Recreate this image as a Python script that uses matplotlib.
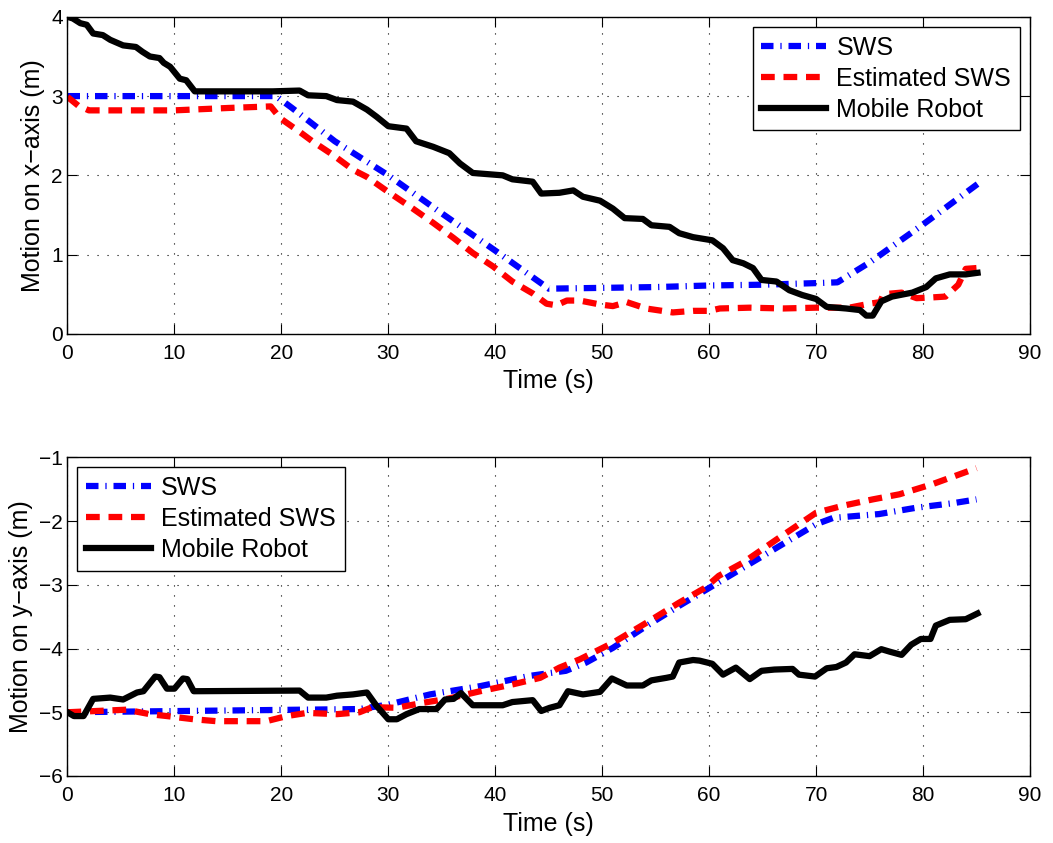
import numpy as np
import matplotlib
matplotlib.use("Agg")
import matplotlib.pyplot as plt

plt.rcParams['font.family'] = ['Liberation Sans', 'DejaVu Sans']

# ---- x-axis motion (top panel) ----
tx_sws = [0, 19.5, 21, 25, 30, 35, 40, 45, 50, 55, 60, 65, 70, 72, 75, 80, 85.3]
x_sws = [3.0, 3.0, 2.85, 2.43, 2.0, 1.52, 1.05, 0.57, 0.58, 0.59, 0.61, 0.62, 0.64, 0.65, 0.9, 1.38, 1.91]

tx_est = [0, 1, 2, 5, 10, 15, 19, 19.9, 21.7, 22.9, 24.8, 26.7, 28.0, 30, 32.3, 34.2, 36.1,
          37.9, 39.8, 41.6, 43.5, 44.8, 45.7, 46.7, 47.9, 49.8, 51.0, 52.3, 54.1, 56.6,
          58.5, 60.0, 61.0, 63.8, 66.9, 70, 73.1, 75, 76.0, 76.3, 78.0, 79.4, 80.9, 82.1,
          83.3, 84.0, 85.0]
x_est = [2.99, 2.88, 2.82, 2.82, 2.82, 2.85, 2.87, 2.72, 2.55, 2.43, 2.26, 2.07, 1.98, 1.79,
         1.58, 1.40, 1.21, 1.02, 0.85, 0.66, 0.51, 0.38, 0.36, 0.42, 0.42, 0.37, 0.35, 0.40,
         0.32, 0.27, 0.29, 0.29, 0.32, 0.33, 0.32, 0.33, 0.33, 0.38, 0.40, 0.50, 0.52, 0.45,
         0.46, 0.47, 0.62, 0.82, 0.83]

tx_rob = [0, 0.5, 1.2, 1.8, 2.4, 3.3, 4.0, 5.2, 6.4, 7.0, 7.7, 8.6, 9.0, 9.6, 10.5, 11.1, 11.9,
          19.2, 21.7, 22.5, 24.2, 25.2, 26.7, 28.0, 28.9, 30, 31.7, 32.6, 34.2, 35.7, 36.7,
          37.9, 40.7, 41.6, 43.5, 44.3, 46.0, 47.3, 48.2, 49.8, 51.0, 52.1, 53.8, 54.6,
          56.3, 57.2, 58.5, 60.3, 61.3, 62.2, 63.2, 64.1, 64.9, 66.3, 67.5, 68.7, 70.0,
          71.0, 72.8, 74.1, 74.7, 75.3, 76.1, 77.1, 79.0, 80.3, 81.2, 82.5, 84.0, 85.1]
x_rob = [4.0, 3.98, 3.92, 3.9, 3.79, 3.77, 3.71, 3.64, 3.62, 3.56, 3.50, 3.48, 3.42, 3.37,
         3.22, 3.2, 3.06, 3.06, 3.07, 3.01, 3.0, 2.95, 2.93, 2.83, 2.74, 2.62, 2.59, 2.43,
         2.36, 2.28, 2.15, 2.03, 2.0, 1.95, 1.92, 1.77, 1.78, 1.81, 1.73, 1.68, 1.58, 1.46,
         1.45, 1.37, 1.35, 1.27, 1.22, 1.18, 1.08, 0.93, 0.89, 0.83, 0.68, 0.66, 0.55, 0.49,
         0.44, 0.34, 0.32, 0.30, 0.23, 0.23, 0.41, 0.47, 0.52, 0.59, 0.70, 0.75, 0.75, 0.77]

# ---- y-axis motion (bottom panel) ----
ty_sws = [0, 27.3, 30, 33.9, 38.6, 43.2, 46.6, 48.5, 51.0, 54.1, 57.2, 60, 63.2, 66.3, 70.0,
          71.6, 75.9, 79.4, 82.8, 85.0]
y_sws = [-5.0, -4.95, -4.88, -4.72, -4.59, -4.43, -4.35, -4.22, -3.99, -3.65, -3.33, -3.05,
         -2.73, -2.42, -2.05, -1.95, -1.89, -1.79, -1.72, -1.66]

ty_est = [0, 5.5, 7.7, 9.3, 11.8, 13.9, 16.4, 18.6, 20.5, 22.4, 25.2, 27.3, 28.5, 30.8, 33.3,
          35.5, 38.6, 41.7, 44.2, 46.0, 47.9, 51.0, 54.1, 57.2, 59.6, 60.9, 63.2, 66.3, 70,
          72.5, 75.3, 77.8, 80.9, 85.0]
y_est = [-5.0, -4.96, -5.03, -5.06, -5.11, -5.14, -5.14, -5.14, -5.06, -5.01, -5.03, -5.0,
         -4.92, -4.93, -4.85, -4.79, -4.67, -4.56, -4.46, -4.30, -4.17, -3.91, -3.60, -3.28,
         -3.05, -2.86, -2.65, -2.29, -1.87, -1.76, -1.66, -1.58, -1.42, -1.17]

ty_rob = [0, 0.6, 1.5, 2.4, 4.0, 5.2, 6.5, 7.1, 8.2, 8.6, 9.3, 10.0, 10.8, 11.2, 11.8, 21.7,
          22.5, 24.2, 25.2, 26.7, 28.0, 28.9, 30.0, 30.8, 31.7, 32.9, 34.5, 35.3, 36.1,
          36.8, 37.9, 40.7, 41.6, 43.5, 44.3, 45.1, 46.0, 46.8, 48.2, 49.8, 50.9, 52.3,
          53.8, 54.6, 56.0, 56.6, 57.2, 58.5, 59.1, 60.3, 61.3, 62.5, 63.8, 64.9, 66.1,
          67.8, 68.4, 69.9, 71.0, 71.9, 72.8, 73.6, 75.0, 76.1, 76.9, 78.0, 78.9, 79.8,
          80.7, 81.2, 82.5, 84.0, 85.1]
y_rob = [-5.0, -5.06, -5.06, -4.79, -4.77, -4.80, -4.69, -4.67, -4.44, -4.45, -4.63, -4.63,
         -4.47, -4.48, -4.67, -4.66, -4.77, -4.77, -4.74, -4.72, -4.69, -4.9, -5.11, -5.11,
         -5.03, -4.95, -4.95, -4.80, -4.79, -4.70, -4.89, -4.89, -4.84, -4.81, -4.98, -4.93,
         -4.89, -4.67, -4.72, -4.68, -4.47, -4.58, -4.58, -4.50, -4.46, -4.44, -4.22, -4.18,
         -4.19, -4.24, -4.41, -4.30, -4.48, -4.35, -4.33, -4.32, -4.41, -4.44, -4.31, -4.29,
         -4.22, -4.09, -4.12, -4.01, -4.05, -4.10, -3.94, -3.85, -3.85, -3.64, -3.55, -3.54,
         -3.45]

labels = ['SWS', 'Estimated SWS', 'Mobile Robot']

fig = plt.figure(figsize=(10.53, 8.43), dpi=100)
ax1 = fig.add_axes([0.0641, 0.604, 0.914, 0.376])
ax2 = fig.add_axes([0.0641, 0.0795, 0.914, 0.378])

LW = 4.5
SWS_DASH = (2.0, 1.1, 0.2, 1.1)
EST_DASH = (2.2, 1.4)


def style(ax):
    ax.set_xlim(0, 90)
    ax.set_xticks(np.arange(0, 91, 10))
    ax.grid(True, linestyle=(0, (1, 8)), color='k', linewidth=0.8)
    ax.tick_params(direction='in', top=True, right=True, labelsize=15, length=7)
    ax.tick_params(axis='x', pad=7)
    ax.set_xlabel('Time (s)', fontsize=18, labelpad=5)
    for s in ax.spines.values():
        s.set_linewidth(1.0)


def add_legend(ax, handles, loc):
    leg = ax.legend(handles, labels, loc=loc, fontsize=18, fancybox=False,
                    edgecolor='k', framealpha=1, handlelength=2.6, handletextpad=0.4,
                    borderaxespad=0.4, labelspacing=0.28, borderpad=0.35)
    leg.get_frame().set_linewidth(1.0)


l1, = ax1.plot(tx_sws, x_sws, color='b', linestyle='-.', lw=LW, dashes=SWS_DASH)
l2, = ax1.plot(tx_est, x_est, color='r', linestyle='--', lw=LW, dashes=EST_DASH)
l3, = ax1.plot(tx_rob, x_rob, color='k', lw=LW)
ax1.set_ylim(0, 4)
ax1.set_yticks([0, 1, 2, 3, 4])
style(ax1)
ax1.set_ylabel('Motion on x\u2212axis (m)', fontsize=18)
add_legend(ax1, [l1, l2, l3], 'upper right')

m1, = ax2.plot(ty_sws, y_sws, color='b', linestyle='-.', lw=LW, dashes=SWS_DASH)
m2, = ax2.plot(ty_est, y_est, color='r', linestyle='--', lw=LW, dashes=EST_DASH)
m3, = ax2.plot(ty_rob, y_rob, color='k', lw=LW)
ax2.set_ylim(-6, -1)
ax2.set_yticks([-6, -5, -4, -3, -2, -1])
style(ax2)
ax2.set_ylabel('Motion on y\u2212axis (m)', fontsize=18)
add_legend(ax2, [m1, m2, m3], 'upper left')

fig.savefig('out.png', dpi=100)
